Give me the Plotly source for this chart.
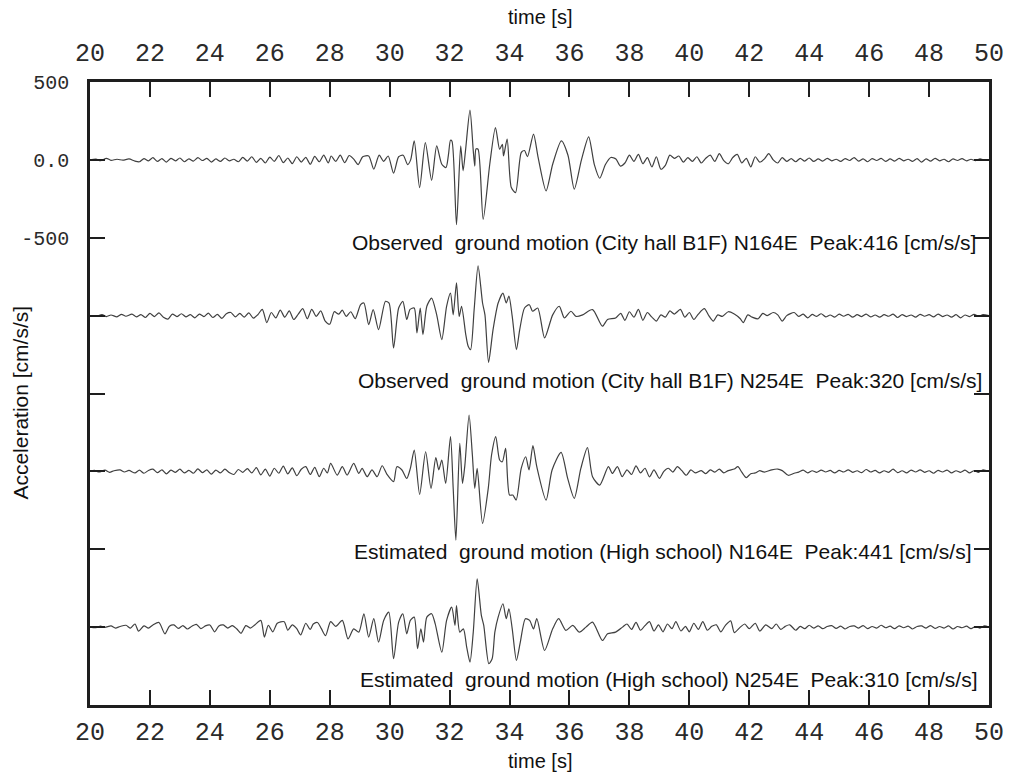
import plotly.graph_objects as go

# Time axis [s] and acceleration [cm/s/s]; each record is a list of (time, acceleration) vertices
OBS_N164E = [
    (20.0, 0), (20.2, 5), (20.35, -5), (20.55, 10), (20.7, -3), (20.9, 4), (21.1, -2), (21.3, 6),
    (21.5, -8), (21.65, -12), (21.8, 8), (21.95, -6), (22.1, 14), (22.25, -10), (22.4, 8), (22.55, -14),
    (22.7, 10), (22.85, -6), (23.0, 12), (23.15, -12), (23.3, 6), (23.45, -8), (23.6, 14), (23.75, -4),
    (23.9, 10), (24.05, -14), (24.2, 6), (24.35, -10), (24.5, 12), (24.65, -6), (24.8, 4), (24.95, -12),
    (25.1, 16), (25.25, -8), (25.4, 20), (25.55, -16), (25.7, 10), (25.85, -20), (26.0, 18), (26.15, -10),
    (26.3, 28), (26.45, -18), (26.6, 12), (26.75, -24), (26.9, 20), (27.05, -14), (27.2, 16), (27.35, -28),
    (27.5, 22), (27.65, -12), (27.8, 30), (27.95, -20), (28.05, 25), (28.2, -10), (28.35, 30), (28.5, -18),
    (28.65, 28), (28.8, 5), (28.95, -30), (29.1, 20), (29.3, 25), (29.47, -60), (29.65, 30), (29.8, -10),
    (29.95, 25), (30.13, -85), (30.3, 20), (30.45, 30), (30.6, -30), (30.7, 0), (30.82, 122), (31.0, -178),
    (31.19, 111), (31.4, -131), (31.57, 90), (31.74, -28), (31.88, -49), (31.96, 30), (32.03, 126),
    (32.08, 120), (32.23, -416), (32.37, 90), (32.45, -70), (32.53, 58), (32.68, 319), (32.79, 58),
    (32.84, -40), (32.88, 70), (32.95, 68), (33.12, -381), (33.34, -28), (33.53, 208), (33.67, 68),
    (33.76, 100), (33.8, 25), (33.92, 133), (34.06, -178), (34.2, -210), (34.39, 47), (34.5, 60),
    (34.6, 20), (34.8, 165), (34.95, 20), (35.22, -199), (35.44, -28), (35.73, 122), (35.95, 30),
    (36.16, -188), (36.4, 0), (36.64, 148), (36.83, -30), (37.01, -118), (37.2, -30), (37.38, 15),
    (37.55, 5), (37.7, -40), (37.85, -20), (38.0, 30), (38.15, -10), (38.3, 35), (38.45, -25), (38.6, 15),
    (38.75, -45), (38.9, 20), (39.05, -60), (39.2, -35), (39.35, 30), (39.5, 10), (39.65, 25), (39.8, -15),
    (39.95, 15), (40.1, -10), (40.25, 20), (40.4, -20), (40.55, 10), (40.7, 30), (40.85, -10), (41.0, 40),
    (41.15, -5), (41.3, -25), (41.45, 15), (41.6, 35), (41.75, -20), (41.9, 10), (42.05, -45), (42.2, 20),
    (42.35, -15), (42.5, 5), (42.65, 40), (42.8, 0), (42.95, -20), (43.1, 15), (43.25, -10), (43.4, 8),
    (43.55, -12), (43.7, 10), (43.85, -8), (44.0, 12), (44.15, -10), (44.3, 6), (44.45, -8), (44.6, 10),
    (44.75, -6), (44.9, 4), (45.05, -10), (45.2, 8), (45.35, -4), (45.5, 15), (45.65, -8), (45.8, 6),
    (45.95, -12), (46.1, 8), (46.25, -4), (46.4, 10), (46.55, -10), (46.7, 6), (46.85, -8), (47.0, 10),
    (47.15, -6), (47.3, 4), (47.45, -10), (47.6, 8), (47.75, -14), (47.9, 6), (48.05, -8), (48.2, 10),
    (48.35, -6), (48.5, 4), (48.65, -12), (48.8, 6), (48.95, -4), (49.1, 8), (49.25, -6), (49.4, 4),
    (49.55, -5), (49.7, 6), (49.85, -3), (50.0, 0),
]

OBS_N254E = [
    (20.0, 0), (20.2, -4), (20.4, 6), (20.55, -6), (20.7, 4), (20.9, -8), (21.05, 8), (21.2, -4),
    (21.4, 10), (21.55, -8), (21.7, 6), (21.85, -12), (22.0, 14), (22.15, -6), (22.3, 18), (22.45, -10),
    (22.6, -22), (22.75, 10), (22.9, -6), (23.05, 12), (23.2, -8), (23.35, 6), (23.5, -14), (23.65, 10),
    (23.8, -6), (23.95, 16), (24.1, -12), (24.25, 8), (24.4, -18), (24.55, 12), (24.7, 20), (24.85, -8),
    (25.0, 14), (25.15, -10), (25.3, 18), (25.45, -16), (25.6, 6), (25.75, 40), (25.9, -45), (26.05, 20),
    (26.2, -15), (26.35, 35), (26.5, -10), (26.65, 30), (26.8, -25), (26.95, 10), (27.1, 45), (27.25, -20),
    (27.4, 40), (27.55, -5), (27.7, 30), (27.85, -35), (28.0, -55), (28.15, 25), (28.3, 10), (28.42, 35),
    (28.55, -5), (28.7, 25), (28.85, -20), (29.03, 71), (29.14, 81), (29.3, -58), (29.45, 39), (29.63, -90),
    (29.86, 92), (29.98, 80), (30.13, -208), (30.3, 49), (30.44, 92), (30.57, -25), (30.68, 40),
    (30.82, 49), (30.91, -111), (31.02, 49), (31.11, -122), (31.24, 60), (31.4, 113), (31.57, 5),
    (31.74, -154), (31.9, 60), (32.03, 145), (32.12, 5), (32.23, 210), (32.32, -5), (32.4, 60),
    (32.54, -122), (32.62, -197), (32.7, -218), (32.82, 40), (32.95, 320), (33.1, 81), (33.18, 5),
    (33.3, -300), (33.45, -90), (33.62, 81), (33.78, 145), (33.89, 81), (33.98, 125), (34.09, -5),
    (34.23, -218), (34.34, -90), (34.5, 49), (34.66, 70), (34.77, 28), (34.94, 49), (35.17, -143),
    (35.44, 5), (35.66, 60), (35.83, -15), (36.05, 28), (36.22, -5), (36.44, 5), (36.77, 39), (37.1, -68),
    (37.27, -25), (37.54, -15), (37.71, 15), (37.85, -30), (38.0, 25), (38.15, -10), (38.3, 40),
    (38.45, -30), (38.6, 20), (38.75, -10), (38.9, -35), (39.05, 5), (39.2, -10), (39.35, 30), (39.5, 10),
    (39.7, 40), (39.85, -10), (40.0, 20), (40.15, -25), (40.3, 10), (40.5, 45), (40.65, 0), (40.8, -35),
    (40.95, 5), (41.1, -5), (41.3, 25), (41.5, 10), (41.7, -20), (41.8, -45), (41.95, 5), (42.1, -10),
    (42.3, -20), (42.45, 15), (42.6, 0), (42.8, 20), (42.95, 5), (43.1, -35), (43.25, 0), (43.5, 20),
    (43.65, -5), (43.8, 10), (43.95, -15), (44.1, 8), (44.25, -5), (44.4, 12), (44.55, -8), (44.7, 4),
    (44.85, -10), (45.0, 10), (45.15, -4), (45.3, 8), (45.45, -10), (45.6, 6), (45.75, -6), (45.9, 10),
    (46.05, -8), (46.2, 4), (46.35, -10), (46.5, 6), (46.65, -4), (46.8, 10), (46.95, -12), (47.1, 6),
    (47.25, -6), (47.4, 4), (47.55, -10), (47.7, 8), (47.85, -4), (48.0, 6), (48.15, -8), (48.3, 10),
    (48.45, -6), (48.6, 4), (48.75, -10), (48.9, 6), (49.05, -14), (49.2, 4), (49.35, -6), (49.5, 8),
    (49.65, -4), (49.8, 6), (50.0, 0),
]

EST_N164E = [
    (20.0, 0), (20.15, 6), (20.3, -4), (20.5, 8), (20.65, -6), (20.8, 4), (21.0, 10), (21.15, -4),
    (21.3, 6), (21.5, -10), (21.65, 8), (21.8, -12), (21.95, 6), (22.1, 14), (22.25, -8), (22.4, 10),
    (22.55, -16), (22.7, 8), (22.85, -6), (23.0, 14), (23.15, -10), (23.3, 6), (23.45, -12), (23.6, 16),
    (23.75, -8), (23.9, 10), (24.05, -18), (24.2, 8), (24.35, -10), (24.5, 14), (24.65, -8), (24.8, -20),
    (24.95, 12), (25.1, -6), (25.25, 18), (25.4, -10), (25.55, 24), (25.7, -22), (25.85, 14), (26.0, -30),
    (26.15, 20), (26.3, -12), (26.45, 34), (26.6, -16), (26.75, 22), (26.9, -28), (27.05, 14), (27.2, 30),
    (27.35, -20), (27.5, 26), (27.65, -34), (27.8, 20), (27.92, -10), (28.03, 51), (28.25, -24),
    (28.42, 30), (28.58, -24), (28.8, 51), (28.97, -13), (29.08, 19), (29.25, -34), (29.41, 9),
    (29.58, -34), (29.75, 36), (29.91, -19), (30.13, -66), (30.24, 30), (30.41, 9), (30.57, -45),
    (30.69, 19), (30.82, 137), (31.0, -148), (31.2, 126), (31.38, -109), (31.54, 88), (31.64, 10),
    (31.74, 73), (31.87, -77), (32.03, 223), (32.12, -110), (32.21, -441), (32.34, 180), (32.43, -77),
    (32.51, 40), (32.65, 362), (32.76, 105), (32.84, -109), (32.92, 19), (33.1, -334), (33.29, -109),
    (33.4, 105), (33.54, 223), (33.67, 73), (33.76, 62), (33.87, 148), (34.0, -152), (34.11, -152),
    (34.22, -184), (34.39, 19), (34.54, 94), (34.65, 9), (34.78, 165), (34.91, 30), (35.22, -184),
    (35.42, 9), (35.72, 122), (35.94, -45), (36.16, -173), (36.38, 19), (36.6, 152), (36.77, -34),
    (37.01, -88), (37.3, 30), (37.43, -13), (37.6, 30), (37.76, -34), (37.92, 10), (38.07, -20),
    (38.22, 35), (38.37, -10), (38.52, 20), (38.67, -35), (38.82, 10), (39.0, -45), (39.15, 0), (39.3, 20),
    (39.45, -5), (39.6, 30), (39.75, 5), (39.9, -25), (40.05, 10), (40.2, -10), (40.4, 5), (40.55, -15),
    (40.7, 10), (40.85, -5), (41.0, 15), (41.15, -10), (41.3, 5), (41.5, 15), (41.62, 30), (41.75, -5),
    (41.9, -40), (42.05, -15), (42.2, -10), (42.35, 5), (42.5, -5), (42.75, 10), (42.95, 15), (43.1, 5),
    (43.3, -25), (43.5, -12), (43.65, -5), (43.8, 8), (43.95, -10), (44.1, 4), (44.25, -6), (44.4, 8),
    (44.55, -4), (44.7, 6), (44.85, -10), (45.0, 6), (45.15, -4), (45.3, 10), (45.45, -6), (45.6, 4),
    (45.75, -8), (45.9, 12), (46.05, -4), (46.2, 6), (46.35, -10), (46.5, 4), (46.65, -6), (46.8, 14),
    (46.95, -8), (47.1, 4), (47.25, -10), (47.4, 8), (47.55, -4), (47.7, 10), (47.85, -6), (48.0, 4),
    (48.15, -12), (48.3, 6), (48.45, -4), (48.6, 8), (48.75, -10), (48.9, 4), (49.05, -6), (49.2, 8),
    (49.35, -10), (49.5, 4), (49.65, -6), (49.8, 10), (50.0, 0),
]

EST_N254E = [
    (20.0, 0), (20.2, -4), (20.35, 6), (20.5, -2), (20.7, 8), (20.85, -6), (21.0, 4), (21.2, 12),
    (21.35, -6), (21.5, 20), (21.62, -26), (21.8, 8), (21.95, -6), (22.1, 14), (22.3, 30), (22.5, -43),
    (22.65, 6), (22.8, 14), (22.95, -8), (23.1, 10), (23.25, -12), (23.4, 6), (23.55, 18), (23.7, -10),
    (23.85, 8), (24.0, 14), (24.16, -30), (24.3, 8), (24.45, 14), (24.6, -6), (24.75, 10), (24.9, -12),
    (25.04, -40), (25.2, 10), (25.35, -6), (25.5, 14), (25.7, 43), (25.82, -64), (25.95, 12), (26.1, -30),
    (26.25, 25), (26.48, 35), (26.6, -20), (26.75, 15), (26.9, -10), (27.03, -50), (27.2, 25),
    (27.35, -15), (27.45, 20), (27.59, 30), (27.72, -10), (27.86, -55), (28.03, 35), (28.2, 5),
    (28.42, 43), (28.61, -75), (28.8, -11), (28.97, -32), (29.14, 86), (29.3, -64), (29.47, 54),
    (29.63, -96), (29.8, 43), (29.97, 96), (30.13, -203), (30.3, 32), (30.44, 86), (30.57, -43),
    (30.69, 43), (30.82, 64), (30.93, -139), (31.04, -11), (31.13, -96), (31.24, 64), (31.4, 86),
    (31.52, 21), (31.74, -161), (31.9, 43), (32.07, 128), (32.18, 11), (32.23, 139), (32.34, -32),
    (32.46, -11), (32.57, -128), (32.68, -225), (32.79, -32), (32.92, 310), (33.06, 75), (33.14, 11),
    (33.31, -235), (33.42, -203), (33.51, -32), (33.62, 64), (33.78, 150), (33.89, 54), (33.98, 118),
    (34.09, -11), (34.23, -214), (34.36, -96), (34.53, 54), (34.67, 43), (34.8, -11), (34.91, 54),
    (35.17, -150), (35.44, -11), (35.64, 54), (35.88, -21), (36.11, 11), (36.33, -32), (36.55, 0),
    (36.77, 32), (37.1, -86), (37.27, -43), (37.54, -32), (37.77, 0), (37.92, 20), (38.07, -15),
    (38.22, 30), (38.37, -20), (38.52, 10), (38.67, 35), (38.82, -25), (38.97, 15), (39.12, -30),
    (39.27, 20), (39.42, -10), (39.55, 35), (39.72, -25), (39.87, 5), (40.0, -30), (40.15, 25),
    (40.3, -15), (40.45, 35), (40.6, -20), (40.75, 5), (40.9, 15), (41.05, -30), (41.2, 10), (41.38, 40),
    (41.5, -35), (41.7, 0), (41.85, 20), (42.0, -10), (42.2, 25), (42.35, -25), (42.55, 15), (42.75, -10),
    (42.9, 20), (43.05, -15), (43.2, 5), (43.35, 15), (43.55, -20), (43.7, 5), (43.85, -10), (44.0, 12),
    (44.15, -6), (44.3, 8), (44.45, -10), (44.6, 4), (44.75, 10), (44.9, -8), (45.05, 6), (45.2, -12),
    (45.35, 4), (45.5, 8), (45.65, -6), (45.8, 10), (45.95, -10), (46.1, 4), (46.25, -6), (46.4, 12),
    (46.55, -4), (46.7, 6), (46.85, -10), (47.0, 8), (47.15, -4), (47.3, 6), (47.45, -12), (47.6, 4),
    (47.75, 8), (47.9, -6), (48.05, 10), (48.2, -8), (48.35, 4), (48.5, -6), (48.65, 8), (48.8, -12),
    (48.95, 4), (49.1, -4), (49.25, 6), (49.4, -10), (49.55, 4), (49.7, -6), (49.85, 8), (50.0, 0),
]

# Vertical offset of each record [cm/s/s] and its caption
OFFSETS = [0, -1000, -2000, -3000]
LABELS = [
    "Observed \u00a0ground motion (City hall B1F) N164E \u00a0Peak:416 [cm/s/s]",
    "Observed \u00a0ground motion (City hall B1F) N254E \u00a0Peak:320 [cm/s/s]",
    "Estimated \u00a0ground motion (High school) N164E \u00a0Peak:441 [cm/s/s]",
    "Estimated \u00a0ground motion (High school) N254E \u00a0Peak:310 [cm/s/s]",
]
LABEL_X = [49.62, 49.82, 49.47, 49.66]
LABEL_Y = [-533, -1419, -2517, -3338]

X_TICKS = list(range(20, 51, 2))
Y_TICKS = [500, 0, -500, -1000, -1500, -2000, -2500, -3000]
Y_TICKTEXT = ["500", "0.0", "-500", "", "", "", "", ""]

SANS = "Liberation Sans, Arial, Helvetica, sans-serif"
MONO = "Courier New, Liberation Mono, monospace"
INK = "#1e1e1e"

fig = go.Figure()
records = [OBS_N164E, OBS_N254E, EST_N164E, EST_N254E]
for i, (rec, off) in enumerate(zip(records, OFFSETS)):
    t = [p[0] for p in rec]
    a = [p[1] + off for p in rec]
    # the first record is bound to the top time axis so that axis gets drawn too
    fig.add_trace(go.Scatter(x=t, y=a, mode="lines", xaxis="x2" if i == 0 else "x",
                             line=dict(color="#404040", width=1.2, shape="spline", smoothing=0.7),
                             showlegend=False, hoverinfo="skip"))

for text, lx, ly in zip(LABELS, LABEL_X, LABEL_Y):
    fig.add_annotation(x=lx, y=ly, xref="x", yref="y", text=text, showarrow=False,
                       xanchor="right", yanchor="middle",
                       font=dict(family=SANS, size=21, color="#111111"))

# axis titles
fig.add_annotation(x=0.5, y=1.104, xref="paper", yref="paper", text="time [s]", showarrow=False,
                   xanchor="center", yanchor="middle", font=dict(family=SANS, size=20, color="#111111"))
fig.add_annotation(x=0.5, y=-0.09, xref="paper", yref="paper", text="time [s]", showarrow=False,
                   xanchor="center", yanchor="middle", font=dict(family=SANS, size=20, color="#111111"))
fig.add_annotation(x=-0.077, y=0.485, xref="paper", yref="paper", text="Acceleration [cm/s/s]",
                   showarrow=False, textangle=-90, xanchor="center", yanchor="middle",
                   font=dict(family=SANS, size=21, color="#111111"))

xaxis_common = dict(range=[20, 50], tickmode="array", tickvals=X_TICKS,
                    ticks="inside", ticklen=15, tickwidth=1.5, tickcolor=INK,
                    showline=True, linewidth=2.5, linecolor=INK,
                    showgrid=False, zeroline=False,
                    tickfont=dict(family=MONO, size=25, color="#2a2a2a"))

fig.update_layout(
    width=1016, height=776,
    margin=dict(l=90, r=21, t=82, b=71),
    paper_bgcolor="white", plot_bgcolor="white",
    xaxis=dict(**xaxis_common, mirror=True, ticklabelstandoff=2),
    xaxis2=dict(**xaxis_common, overlaying="x", side="top", matches="x", ticklabelstandoff=8),
    yaxis=dict(range=[-3500, 500], tickmode="array", tickvals=Y_TICKS, ticktext=Y_TICKTEXT,
               ticks="inside", ticklen=15, tickwidth=1.5, tickcolor=INK,
               showline=True, linewidth=2.5, linecolor=INK, mirror="ticks",
               showgrid=False, zeroline=False, ticklabelstandoff=14,
               tickfont=dict(family=MONO, size=20, color="#2a2a2a")),
)

fig.write_html("out.html")
